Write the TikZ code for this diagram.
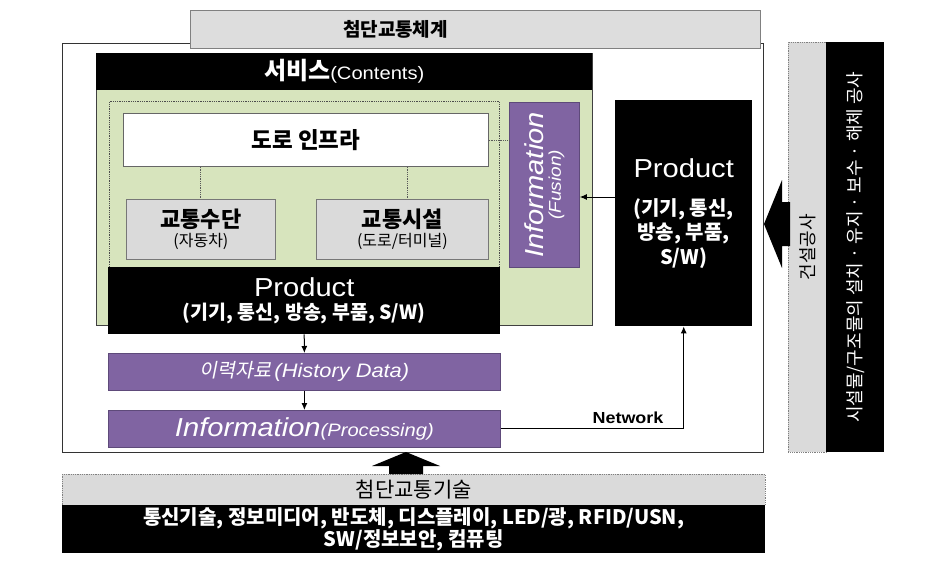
\documentclass[tikz,border=0pt]{standalone}
\usepackage{fontspec}
\setmainfont{Liberation Sans}[FakeStretch=1.12]
\newfontfamily\korfont{Noto Sans CJK KR}
\newfontfamily\korit[FakeSlant=0.2]{Noto Sans CJK KR}
\usetikzlibrary{arrows.meta}
\definecolor{pur}{HTML}{8064A2}
\definecolor{purd}{HTML}{5E4A7A}
\definecolor{grn}{HTML}{D7E4BD}
\definecolor{lgray}{HTML}{DADADA}
\definecolor{tgray}{HTML}{DDDDDD}
\definecolor{bgray}{HTML}{777777}
\newcommand\fs[1]{\fontsize{#1}{#1}\selectfont}
\begin{document}
\begin{tikzpicture}[x=1pt,y=-1pt,
  rbox/.style={inner sep=0pt, anchor=north west, align=center},
  blk/.style={rbox, fill=black, text=white},
  prp/.style={rbox, fill=pur, draw=purd, line width=0.8pt, text=white},
  gbx/.style={rbox, fill=lgray, draw=bgray, line width=0.8pt},
  dotb/.style={rbox, fill=lgray, draw=gray, densely dotted, line width=0.8pt},
  arr/.style={line width=1pt, -{Latex[length=7pt,width=6pt]}},
  dl/.style={draw=gray!70!black, densely dotted, line width=0.8pt}]
\useasboundingbox (0,0) rectangle (942,565);
% outer frame
\node[rbox, draw=black!80, line width=1.4pt, fill=white, minimum width=701pt, minimum height=409pt] (frame) at (62,43) {};
% title
\node[rbox, fill=tgray, draw=gray, line width=1pt, minimum width=570pt, minimum height=38pt] (title) at (190,10) {\korfont\bfseries\fs{19}첨단교통체계\kern160pt};
% right side boxes
\node[dotb, minimum width=38pt, minimum height=410pt] (cons) at (788,42) {\rotatebox{90}{\korfont\fs{18}건설공사}};
\node[blk, minimum width=58pt, minimum height=410pt] (facil) at (826,42) {\rotatebox{90}{\korfont\fs{18}시설물/구조물의 설치 · 유지 · 보수 · 해체 공사}};
% big left arrow
\fill[black] (764,224) -- (782,180) -- (782,202) -- (790,202) -- (790,246) -- (782,246) -- (782,268) -- cycle;
% green service area
\node[rbox, fill=grn, draw=black!75, line width=1pt, minimum width=496pt, minimum height=272pt] (svc) at (96,53) {};
\node[blk, minimum width=496pt, minimum height=37pt] (svch) at (96,53) {{\korfont\bfseries\fs{24}서비스}{\fs{18}(Contents)}};
\node[rbox, draw=gray!60!black, densely dotted, line width=0.8pt, minimum width=390pt, minimum height=166pt] (inner) at (109,101) {};
\node[rbox, fill=white, draw=black!60, line width=0.8pt, minimum width=365pt, minimum height=53pt] (road) at (123,113) {\korfont\bfseries\fs{22.5}도로 인프라};
\node[gbx, minimum width=149pt, minimum height=60pt] (veh) at (126,199) {\korfont\bfseries\fs{22}교통수단\\[2pt]\korfont\fs{16}(자동차)};
\node[gbx, minimum width=172pt, minimum height=60pt] (fac) at (316,199) {\korfont\bfseries\fs{22}교통시설\\[2pt]\korfont\fs{16}(도로/터미널)};
\node[prp, minimum width=70pt, minimum height=165pt] (fusion) at (509,102) {\rotatebox{90}{\begin{tabular}{@{}c@{}}\itshape\fs{26}Information\\[2pt]\itshape\fs{17}(Fusion)\end{tabular}}};
\node[blk, minimum width=392pt, minimum height=67pt] (prod) at (108,267) {\fs{26}Product\\[6pt]\korfont\bfseries\fs{19.5}(기기, 통신, 방송, 부품, S/W)};
% right product
\node[blk, minimum width=137pt, minimum height=226pt] (rprod) at (615,100) {\fs{26}Product\\[20pt]\korfont\bfseries\fs{20}(기기, 통신,\\[2pt]\korfont\bfseries\fs{20}방송, 부품,\\[2pt]\korfont\bfseries\fs{20}S/W)};
% history and processing
\node[prp, minimum width=392pt, minimum height=37pt] (hist) at (108,353) {{\korit\fs{19.5}이력자료} {\itshape\fs{19.5}(History Data)}};
\node[prp, minimum width=392pt, minimum height=37pt] (proc) at (108,410) {{\itshape\fs{26}Information}{\itshape\fs{18}(Processing)}};
% bottom
\node[dotb, minimum width=703pt, minimum height=31pt] (tech) at (62,474) {\korfont\fs{21}첨단교통기술};
\node[blk, minimum width=703pt, minimum height=48pt] (techl) at (62,505) {\korfont\bfseries\fontsize{20}{21.5}\selectfont 통신기술, 정보미디어, 반도체, 디스플레이, LED/광, RFID/USN,\\\korfont\bfseries\fontsize{20}{21.5}\selectfont SW/정보보안, 컴퓨팅};
% big up arrow
\fill[black] (406,452) -- (440,466) -- (423,466) -- (423,474) -- (389,474) -- (389,466) -- (372,466) -- cycle;
% connectors
\draw[dl] (road.south -| 200,0) -- (veh.north -| 200,0);
\draw[dl] (road.south -| 407,0) -- (fac.north -| 407,0);
\draw[dl] (road.east) -- (fusion.west |- road.east);
\coordinate (fa) at (615,197);
\draw[arr] (fa) -- (fa -| fusion.east);
\draw[arr] (prod.south) -- (hist.north);
\draw[arr] (hist.south) -- (proc.north);
\draw[arr] (proc.east) -| (rprod.south);
\node[font=\bfseries\fs{16}] (net) at (628,418) {Network};
\end{tikzpicture}
\end{document}
